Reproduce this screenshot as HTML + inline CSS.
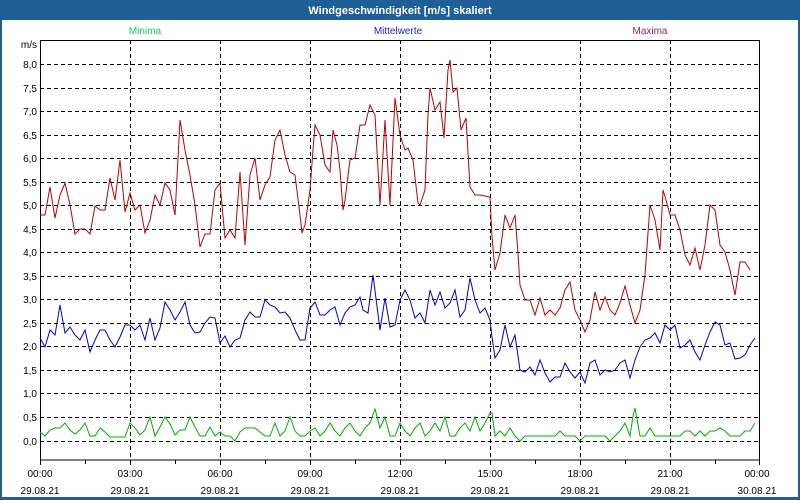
<!DOCTYPE html><html><head><style>
body{margin:0;background:#fff}
svg{display:block;font-family:"Liberation Sans",Tahoma,sans-serif}
</style></head><body>
<svg width="800" height="500" xmlns="http://www.w3.org/2000/svg">
<rect x="0" y="0" width="800" height="500" fill="#1d5f96"/>
<rect x="2" y="20" width="796" height="477" fill="#fff"/>
<text x="400" y="14" fill="#fff" font-size="11" font-weight="bold" text-anchor="middle">Windgeschwindigkeit [m/s] skaliert</text>
<text x="145" y="34" fill="#22cc66" font-size="10" text-anchor="middle">Minima</text>
<text x="398" y="34" fill="#2222dd" font-size="10" text-anchor="middle">Mittelwerte</text>
<text x="650" y="34" fill="#992266" font-size="10" text-anchor="middle">Maxima</text>
<g stroke="#000" stroke-dasharray="4,3" stroke-width="1">
<path d="M40 64.5H760M40 88.5H760M40 111.5H760M40 135.5H760M40 158.5H760M40 182.5H760M40 205.5H760M40 229.5H760M40 252.5H760M40 276.5H760M40 299.5H760M40 323.5H760M40 346.5H760M40 370.5H760M40 393.5H760M40 417.5H760M40 441.5H760"/>
<path d="M130.5 40V460M220.5 40V460M310.5 40V460M400.5 40V460M490.5 40V460M580.5 40V460M670.5 40V460"/>
</g>
<rect x="40.5" y="40.5" width="719" height="419.5" fill="none" stroke="#000"/>
<path stroke="#000" d="M40.5 460V465M85.5 460V464M130.5 460V465M175.5 460V464M220.5 460V465M265.5 460V464M310.5 460V465M355.5 460V464M400.5 460V465M445.5 460V464M490.5 460V465M535.5 460V464M580.5 460V465M625.5 460V464M670.5 460V465M715.5 460V464M759.5 460V465"/>
<g font-size="10" fill="#000" text-anchor="end">
<text x="37" y="48">m/s</text>
<text x="37" y="68">8,0</text><text x="37" y="92">7,5</text><text x="37" y="115">7,0</text><text x="37" y="139">6,5</text><text x="37" y="162">6,0</text><text x="37" y="186">5,5</text><text x="37" y="209">5,0</text><text x="37" y="233">4,5</text><text x="37" y="256">4,0</text><text x="37" y="280">3,5</text><text x="37" y="303">3,0</text><text x="37" y="327">2,5</text><text x="37" y="350">2,0</text><text x="37" y="374">1,5</text><text x="37" y="397">1,0</text><text x="37" y="421">0,5</text><text x="37" y="445">0,0</text>
</g>
<g font-size="10" fill="#000" text-anchor="middle">
<text x="40" y="477">00:00</text><text x="40" y="494">29.08.21</text>
<text x="130" y="477">03:00</text><text x="130" y="494">29.08.21</text>
<text x="220" y="477">06:00</text><text x="220" y="494">29.08.21</text>
<text x="310" y="477">09:00</text><text x="310" y="494">29.08.21</text>
<text x="400" y="477">12:00</text><text x="400" y="494">29.08.21</text>
<text x="490" y="477">15:00</text><text x="490" y="494">29.08.21</text>
<text x="580" y="477">18:00</text><text x="580" y="494">29.08.21</text>
<text x="670" y="477">21:00</text><text x="670" y="494">29.08.21</text>
<text x="757" y="477">00:00</text><text x="757" y="494">30.08.21</text>
</g>
<g fill="none" stroke-width="1">
<polyline stroke="#c00000" points="40,215 45,215 50,187 55,218 60,195 65,183 70,205 75,234 80,229 85,229 90,234 95,206 100,210 105,210 110,178 115,200 120,160 125,212 130,193 135,210 140,205 145,233 150,220 155,195 160,205 165,183 170,190 175,215 180,120 185,150 190,175 195,205 200,247 205,234 210,234 215,190 220,183 225,238 230,230 235,238 240,172 245,245 250,175 255,158 260,200 265,185 270,177 275,140 280,130 285,155 290,172 295,175 300,215 302,233 305,225 310,190 313,150 315,125 320,135 325,165 330,172 333,130 337,145 340,170 343,210 345,200 350,160 355,158 360,125 365,125 370,105 375,115 380,205 385,120 390,205 395,98 400,135 405,150 408,148 413,160 418,203 420,205 425,190 428,115 430,88 435,110 440,102 444,138 448,70 450,60 453,92 457,88 461,130 466,118 470,187 475,195 480,195 490,197 492,237 495,270 500,253 505,215 510,228 515,215 518,253 520,285 525,300 530,300 535,315 540,298 545,315 550,310 555,315 560,308 565,290 570,282 575,310 580,320 585,332 590,320 595,292 600,310 605,297 610,310 615,315 620,303 625,286 630,305 635,323 640,310 645,275 650,205 655,220 660,250 663,190 666,200 670,215 675,215 680,230 685,255 690,265 695,248 700,270 705,245 710,205 715,210 720,245 725,252 730,270 735,295 740,262 745,262 750,270"/>
<polyline stroke="#0000e0" points="40,338 45,347 50,330 55,335 60,305 65,333 70,327 75,335 80,340 85,330 90,352 95,340 100,330 105,330 110,340 115,347 120,337 125,325 130,325 135,330 140,325 145,340 150,318 155,340 160,328 165,302 170,310 175,320 180,312 185,302 190,325 195,333 200,332 205,323 210,317 215,318 220,343 225,336 230,347 235,340 240,338 245,320 250,312 255,317 260,317 265,300 270,305 275,307 280,313 285,312 290,318 295,330 300,340 305,340 310,308 315,302 320,315 325,315 330,310 335,307 340,325 345,313 350,307 355,305 360,297 363,310 368,313 373,275 380,330 385,298 390,327 395,325 400,300 405,290 410,300 415,318 420,313 425,323 430,290 435,305 440,292 445,308 450,303 455,290 460,317 465,310 470,278 475,300 480,313 485,308 490,320 492,337 495,358 500,350 505,325 510,347 515,335 520,370 525,372 530,367 535,375 540,360 545,373 550,382 555,377 560,377 565,363 570,372 575,378 580,372 585,383 590,363 595,360 600,375 605,370 610,372 615,370 620,363 625,360 630,378 635,360 640,347 645,340 650,338 655,333 660,343 665,325 670,330 675,325 680,348 685,345 690,340 695,352 700,360 705,345 710,332 715,322 720,325 725,345 730,343 735,359 740,358 745,355 750,345 755,338"/>
<polyline stroke="#00b000" points="40,432 45,436 50,430 55,428 60,428 65,423 70,430 75,434 80,430 85,423 90,436 95,436 100,428 105,432 110,437 115,437 120,437 125,437 130,423 135,428 140,435 145,430 150,417 155,436 160,427 165,417 170,424 175,435 180,430 185,430 190,417 195,427 200,436 205,436 210,427 215,436 220,432 225,436 230,436 235,441 240,432 245,428 250,428 255,428 260,432 265,436 270,436 275,423 280,436 285,431 290,417 295,431 300,436 305,436 310,431 315,428 320,436 325,431 330,423 335,431 340,436 345,428 350,423 355,431 360,436 365,428 370,423 375,409 380,428 385,417 390,436 395,436 400,423 405,431 410,436 415,428 420,423 425,436 430,431 435,423 440,431 445,417 450,436 455,436 460,428 465,423 470,431 475,417 480,431 485,423 490,413 492,413 495,436 500,431 505,436 510,428 515,436 520,441 525,436 530,436 535,436 540,436 545,436 550,436 555,436 560,431 565,436 570,436 575,436 580,441 585,436 590,436 595,436 600,436 605,436 610,441 615,436 620,431 625,423 630,436 633,416 635,408 640,436 645,436 650,428 655,436 660,436 670,436 680,436 685,431 690,431 695,436 700,431 705,436 710,431 715,431 720,428 725,431 730,436 740,436 745,431 750,431 755,423"/>
</g>
</svg>
</body></html>
